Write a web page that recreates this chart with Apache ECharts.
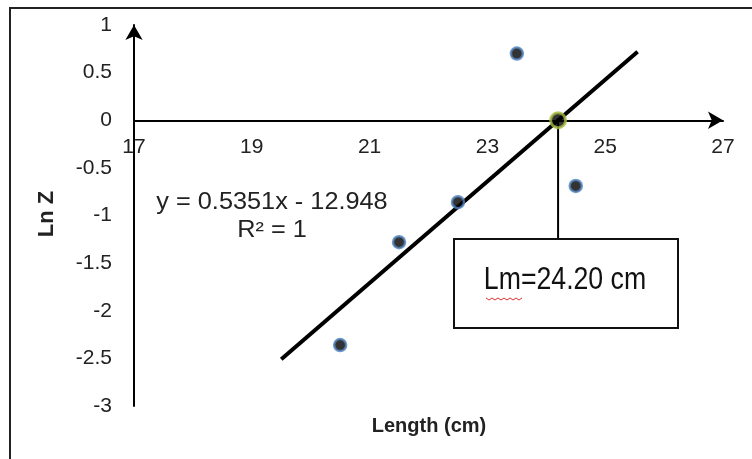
<!DOCTYPE html>
<html>
<head>
<meta charset="utf-8">
<script src="https://cdn.jsdelivr.net/npm/echarts@6/dist/echarts.min.js"></script>
<style>
  html, body { margin: 0; padding: 0; background: #fff; }
  #chart { width: 752px; height: 459px; }
</style>
</head>
<body>
<div id="chart"></div>
<script>
// observed points (Length, Ln Z)
var lengths = [20.5, 21.5, 22.5, 23.5, 24.5];
var lnZ = [-2.36, -1.28, -0.86, 0.70, -0.69];

// linear trend line ends
var trendX = [19.5, 25.55];
var trendY = [-2.51, 0.72];

// Lm point (where the line crosses Ln Z = 0) and the foot of its leader line
var lmPoint = [24.2, 0];
var leaderEnd = [24.2, -1.25];

var xTicks = { min: 17, max: 27, step: 2 };
var yTicks = { min: -3, max: 1, step: 0.5 };

var chart = echarts.init(document.getElementById("chart"));

var pointData = lengths.map(function(x, i) { return [x, lnZ[i]]; });
var trendData = trendX.map(function(x, i) { return [x, trendY[i]]; });

var gridBox = { left: 134, right: 29, top: 25, bottom: 53 };
var gridHeight = 459 - gridBox.top - gridBox.bottom;
// move the x axis (line and labels) up to Ln Z = 0
var xAxisOffset = -(0 - yTicks.min) / (yTicks.max - yTicks.min) * gridHeight;

var labelFont = {
    color: "#222",
    fontFamily: "Liberation Sans, Arial, sans-serif",
    fontSize: 21
};

var option = {
    animation: false,
    backgroundColor: "#fff",
    grid: gridBox,
    xAxis: {
        type: "value",
        min: xTicks.min,
        max: xTicks.max,
        interval: xTicks.step,
        offset: xAxisOffset,
        axisLine: {
            onZero: false,
            symbol: ["none", "arrow"],
            symbolSize: [13, 15],
            lineStyle: { color: "#000", width: 2 }
        },
        axisTick: { show: false },
        splitLine: { show: false },
        axisLabel: Object.assign({ margin: 16 }, labelFont)
    },
    yAxis: {
        type: "value",
        min: yTicks.min,
        max: yTicks.max,
        interval: yTicks.step,
        axisLine: {
            show: true,
            onZero: false,
            symbol: ["none", "arrow"],
            symbolSize: [13, 15],
            lineStyle: { color: "#000", width: 2 }
        },
        axisTick: { show: false },
        splitLine: { show: false },
        axisLabel: Object.assign({ margin: 22 }, labelFont)
    },
    series: [
        {
            // trend line
            type: "line",
            data: trendData,
            symbol: "none",
            z: 2,
            lineStyle: { color: "#000", width: 4 }
        },
        {
            // leader line to the Lm box
            type: "line",
            data: [lmPoint, leaderEnd],
            symbol: "none",
            z: 1,
            lineStyle: { color: "#000", width: 2 }
        },
        {
            type: "scatter",
            data: pointData,
            symbolSize: 12,
            z: 3,
            itemStyle: {
                color: "#000",
                borderColor: "#4f81bd",
                borderWidth: 2.5
            }
        },
        {
            type: "scatter",
            data: [lmPoint],
            symbolSize: 15,
            z: 4,
            itemStyle: {
                color: "#000",
                borderColor: "#a6b93c",
                borderWidth: 3
            }
        }
    ],
    graphic: [
        {
            // outer frame, only the top and left edges show in the crop
            type: "rect",
            shape: { x: 10, y: 8, width: 760, height: 470 },
            style: { fill: "none", stroke: "#222", lineWidth: 2 },
            z: 0
        },
        {
            type: "text",
            x: 272, y: 203,
            scaleX: 1.1,
            style: {
                text: "y = 0.5351x - 12.948",
                fill: "#222",
                font: "23px 'Liberation Sans', Arial, sans-serif",
                align: "center",
                verticalAlign: "middle"
            }
        },
        {
            type: "text",
            x: 272, y: 231,
            scaleX: 1.1,
            style: {
                text: "R² = 1",
                fill: "#222",
                font: "23px 'Liberation Sans', Arial, sans-serif",
                align: "center",
                verticalAlign: "middle"
            }
        },
        {
            type: "rect",
            shape: { x: 454, y: 239, width: 224, height: 89 },
            style: { fill: "#fff", stroke: "#111", lineWidth: 2 },
            z: 10
        },
        {
            type: "text",
            x: 565, y: 280,
            scaleX: 0.86,
            z: 11,
            style: {
                text: "Lm=24.20 cm",
                fill: "#111",
                font: "31px 'Liberation Sans', sans-serif",
                align: "center",
                verticalAlign: "middle"
            }
        },
        {
            // spell-check squiggle under "Lm"
            type: "polyline",
            z: 11,
            shape: {
                points: [[486, 298], [489, 300], [492, 298], [495, 300], [498, 298], [501, 300],
                         [504, 298], [507, 300], [510, 298], [513, 300], [516, 298], [519, 300], [522, 298]]
            },
            style: { stroke: "#e03030", lineWidth: 1, fill: "none" }
        },
        {
            type: "text",
            x: 429, y: 426,
            style: {
                text: "Length (cm)",
                fill: "#222",
                font: "bold 20px 'Liberation Sans', Arial, sans-serif",
                align: "center",
                verticalAlign: "middle"
            }
        },
        {
            type: "text",
            x: 47, y: 214,
            rotation: Math.PI / 2,
            style: {
                text: "Ln Z",
                fill: "#222",
                font: "bold 22px 'Liberation Sans', Arial, sans-serif",
                align: "center",
                verticalAlign: "middle"
            }
        }
    ]
};

chart.setOption(option);
</script>
</body>
</html>
